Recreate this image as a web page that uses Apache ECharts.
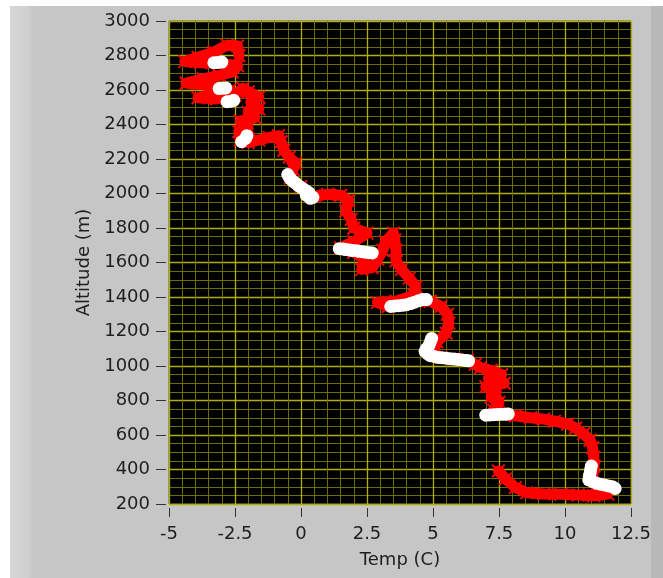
<!DOCTYPE html>
<html>
<head>
<meta charset="utf-8">
<script src="https://cdn.jsdelivr.net/npm/echarts@6/dist/echarts.min.js"></script>
<style>
html,body{margin:0;padding:0;background:#c6c6c6;}
#chart{width:663px;height:578px;}
</style>
</head>
<body>
<div id="chart"></div>
<script>
// Red trace (x markers), in flight order
const redTemp = [7.48,7.75,8.12,8.55,9.2,9.84,10.5,11.09,11.62,11.45,11.15,11.05,11.1,11.09,11.05,10.95,10.71,10.4,10.1,9.6,9.19,8.7,8.12,7.6,7.3,7.5,7.2,7.4,7.0,7.7,7.1,7.6,7.2,6.8,6.6,6.3,5.8,5.3,5.0,5.15,5.5,5.6,5.55,5.3,4.9,4.4,3.8,3.3,2.9,3.6,4.3,4.35,4.1,3.8,3.6,3.6,3.55,3.5,3.2,3.1,2.9,2.7,2.3,2.4,2.0,1.5,2.0,2.5,2.0,1.9,1.7,1.8,1.5,1.0,0.5,0.0,-0.4,-0.3,-0.2,-0.45,-0.65,-0.75,-0.85,-1.2,-1.6,-2.0,-2.3,-2.35,-2.0,-2.3,-1.75,-2.0,-1.6,-1.9,-1.6,-2.0,-2.2,-2.5,-3.2,-3.9,-3.1,-2.7,-3.4,-4.35,-3.7,-3.1,-2.6,-2.4,-3.1,-3.8,-4.4,-3.9,-3.3,-2.8,-2.4,-2.35];
const redAlt = [392,345,295,265,258,256,252,248,258,280,305,360,420,470,526,570,607,640,664,680,692,700,712,722,745,790,820,850,880,900,930,950,975,990,1010,1035,1040,1050,1080,1140,1190,1250,1300,1345,1375,1380,1360,1345,1368,1375,1410,1460,1510,1560,1610,1670,1730,1770,1720,1670,1620,1570,1560,1620,1660,1685,1720,1770,1800,1850,1900,1960,1990,1995,1985,2040,2090,2140,2175,2210,2250,2300,2335,2325,2310,2295,2310,2360,2380,2420,2440,2470,2490,2530,2560,2590,2610,2570,2548,2555,2585,2600,2625,2640,2665,2685,2705,2740,2755,2758,2765,2790,2820,2860,2855,2800];
// White points
const whiteTemp = [-3.3,-3.15,-3.0, -3.1,-2.95,-2.85, -2.8,-2.65,-2.55, -2.25,-2.1,-2.05, -0.5,-0.45,-0.4,-0.3,-0.2,-0.1,0.0,0.1,0.2,0.3,0.45,0.35,0.2, 1.45,1.6,1.7,1.85,1.95,2.1,2.2,2.35,2.45,2.6,2.7, 3.4,3.55,3.7,3.85,4.0,4.15,4.3,4.45,4.6,4.75, 4.95,4.9,4.85,4.75,4.7,4.8,4.9,5.05,5.2,5.35,5.5,5.65,5.8,5.95,6.1,6.25,6.35, 7.0,7.15,7.3,7.45,7.6,7.75,7.85, 11.0,10.97,10.95,10.92,10.9,11.05,11.2,11.35,11.5,11.65,11.8,11.9];
const whiteAlt = [2758,2760,2762, 2608,2610,2612, 2532,2535,2540, 2300,2320,2335, 2110,2095,2085,2070,2060,2045,2035,2025,2015,2005,1978,1972,1990, 1680,1678,1675,1672,1670,1668,1665,1662,1660,1657,1655, 1345,1348,1350,1352,1355,1362,1370,1378,1385,1385, 1160,1140,1120,1100,1085,1070,1060,1055,1050,1048,1045,1042,1040,1038,1035,1032,1030, 715,716,718,719,720,721,722, 420,400,380,360,340,330,320,315,310,305,300,290];
const xTicks = {min:-5, max:12.5, interval:2.5};
const yTicks = {min:200, max:3000, interval:200};

const redData = redTemp.map((t,i)=>[t, redAlt[i]]);
const whiteData = whiteTemp.map((t,i)=>[t, whiteAlt[i]]);

const chart = echarts.init(document.getElementById('chart'), null, {renderer:'canvas'});
const FONT = 'DejaVu Sans';
const xMark = 'path://M0,1L1,0L5,4L9,0L10,1L6,5L10,9L9,10L5,6L1,10L0,9L4,5Z';
chart.setOption({
  backgroundColor:'#c6c6c6',
  animation:false,
  graphic:[
    {type:'rect', z:-10, shape:{x:0,y:0,width:663,height:6}, style:{fill:'#ffffff'}, silent:true},
    {type:'rect', z:-10, shape:{x:0,y:0,width:10,height:578}, style:{fill:'#ffffff'}, silent:true},
    {type:'rect', z:-10, shape:{x:10,y:6,width:24,height:572}, style:{fill:new echarts.graphic.LinearGradient(0,0,1,0,[{offset:0,color:'#d6d6d6'},{offset:0.7,color:'#d0d0d0'},{offset:1,color:'#c6c6c6'}])}, silent:true},
    {type:'rect', z:-10, shape:{x:651,y:6,width:12,height:572}, style:{fill:'#b8b8b8'}, silent:true}
  ],
  grid:{left:169, top:21, right:32, bottom:74, show:true, backgroundColor:'#000000', borderColor:'#5a5a5a', borderWidth:1},
  xAxis:{
    type:'value', min:xTicks.min, max:xTicks.max, interval:xTicks.interval, offset:4,
    name:'Temp (C)', nameLocation:'middle', nameGap:43,
    nameTextStyle:{fontFamily:FONT, fontSize:18, color:'#1e1e1e'},
    axisLine:{show:false, onZero:false},
    axisTick:{show:true, length:9, lineStyle:{color:'#333'}},
    axisLabel:{fontFamily:FONT, fontSize:18, color:'#1e1e1e', margin:17, formatter:v=>String(v)},
    splitLine:{show:true, lineStyle:{color:'#b0b000', width:1.3}},
    minorTick:{show:false, splitNumber:5},
    minorSplitLine:{show:true, lineStyle:{color:'#6e6e00', width:1}}
  },
  yAxis:{
    type:'value', min:yTicks.min, max:yTicks.max, interval:yTicks.interval, offset:3,
    name:'Altitude (m)', nameLocation:'middle', nameGap:66,
    nameTextStyle:{fontFamily:FONT, fontSize:18, color:'#1e1e1e'},
    axisLine:{show:false, onZero:false},
    axisTick:{show:true, length:10, lineStyle:{color:'#333'}},
    axisLabel:{fontFamily:FONT, fontSize:18, color:'#1e1e1e', margin:16, formatter:v=>String(v)},
    splitLine:{show:true, lineStyle:{color:'#b0b000', width:1.3}},
    minorTick:{show:false, splitNumber:4},
    minorSplitLine:{show:true, lineStyle:{color:'#6e6e00', width:1}}
  },
  series:[
    {type:'line', data:redData, symbol:xMark, symbolSize:14, showSymbol:true,
     lineStyle:{color:'#ff0000', width:11, join:'round', cap:'round'},
     itemStyle:{color:'#ff0000', opacity:1}, z:2},
    {type:'scatter', data:whiteData, symbol:'circle', symbolSize:13,
     itemStyle:{color:'#ffffff', opacity:1, borderWidth:0}, z:3}
  ]
});
</script>
</body>
</html>
